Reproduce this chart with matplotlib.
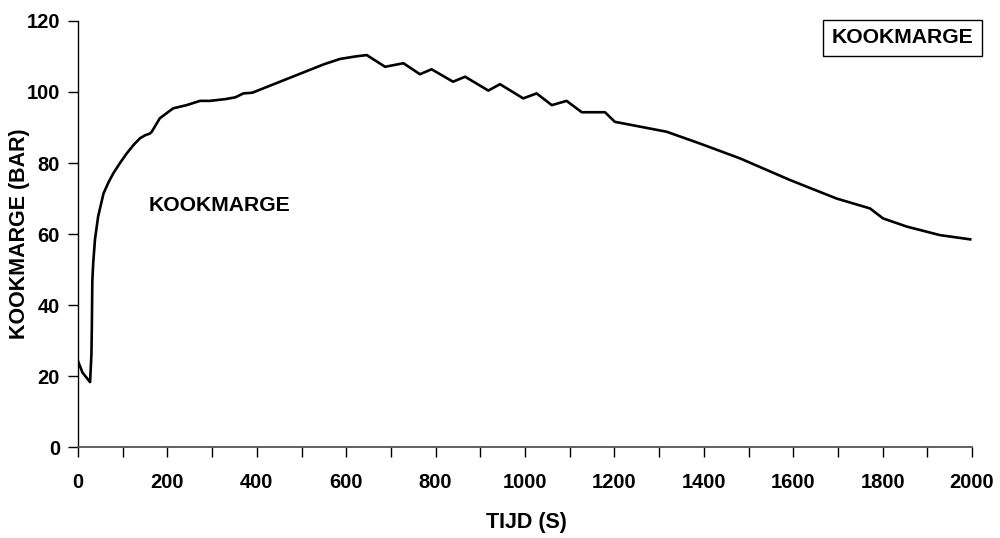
import matplotlib
matplotlib.use('Agg')
import matplotlib.pyplot as plt
from matplotlib.ticker import MultipleLocator

# tijd (s) en kookmarge (bar)
tijd = [0, 10, 27, 30, 31, 32, 34, 38, 45, 57, 68, 79, 95, 109, 125, 139, 150,
        161, 165, 183, 200, 213, 243, 273, 295, 330, 352, 370, 390, 400,
        450, 500, 550, 586, 620, 646, 687, 728, 765, 791, 839, 866, 918, 944,
        996, 1026, 1060, 1093, 1127, 1179, 1201, 1280, 1317, 1391, 1481, 1593,
        1697, 1772, 1801, 1854, 1928, 1996]
kookmarge = [24.2, 21.0, 18.3, 26.0, 34.0, 46.6, 51.8, 58.5, 64.9, 71.4, 74.5,
             77.1, 80.2, 82.7, 85.2, 87.0, 87.8, 88.3, 88.8, 92.6, 94.2, 95.4,
             96.3, 97.5, 97.5, 98.0, 98.5, 99.6, 99.8, 100.3, 102.8, 105.3,
             107.8, 109.3, 110.0, 110.4, 107.1, 108.1, 105.0, 106.4, 102.9,
             104.3, 100.4, 102.2, 98.2, 99.6, 96.3, 97.5, 94.3, 94.3, 91.6,
             89.7, 88.8, 85.5, 81.3, 75.2, 70.0, 67.2, 64.4, 62.1, 59.7, 58.5]

plt.rcParams['font.family'] = ['Liberation Sans', 'DejaVu Sans']
plt.rcParams['font.weight'] = 'bold'

fig = plt.figure(figsize=(10, 5.38), dpi=100)
ax = fig.add_axes([0.078, 0.169, 0.894, 0.792])

ax.plot(tijd, kookmarge, color='black', linewidth=1.9)

ax.set_xlim(0, 2000)
ax.set_ylim(0, 120)
ax.xaxis.set_major_locator(MultipleLocator(200))
ax.xaxis.set_minor_locator(MultipleLocator(100))
ax.yaxis.set_major_locator(MultipleLocator(20))
ax.tick_params(axis='both', which='both', direction='out', labelsize=14.5, width=1)
ax.tick_params(axis='both', which='major', length=7)
ax.tick_params(axis='x', which='minor', length=7)
ax.tick_params(axis='x', which='major', pad=12)
ax.tick_params(axis='y', which='major', pad=6)
for lbl in ax.get_xticklabels() + ax.get_yticklabels():
    lbl.set_fontweight('bold')

ax.spines['top'].set_visible(False)
ax.spines['right'].set_visible(False)
ax.spines['left'].set_linewidth(1)
ax.spines['bottom'].set_linewidth(1.3)
ax.spines['bottom'].set_color('#555555')

ax.set_xlabel('TIJD (S)', fontsize=15.5, fontweight='bold')
ax.set_ylabel('KOOKMARGE (BAR)', fontsize=15.5, fontweight='bold')
ax.xaxis.set_label_coords(0.502, -0.176)
ax.yaxis.set_label_coords(-0.065, 0.5)
ax.xaxis.label.set_va('center')
ax.yaxis.label.set_va('center')

ax.text(157, 68, 'KOOKMARGE', fontsize=15.2, fontweight='bold', va='center', ha='left')
ax.text(0.922, 0.961, 'KOOKMARGE', transform=ax.transAxes, fontsize=15.2,
        fontweight='bold', ha='center', va='center',
        bbox=dict(boxstyle='square,pad=0.4', facecolor='white', edgecolor='black', linewidth=1))

fig.savefig('out.png', dpi=100)
